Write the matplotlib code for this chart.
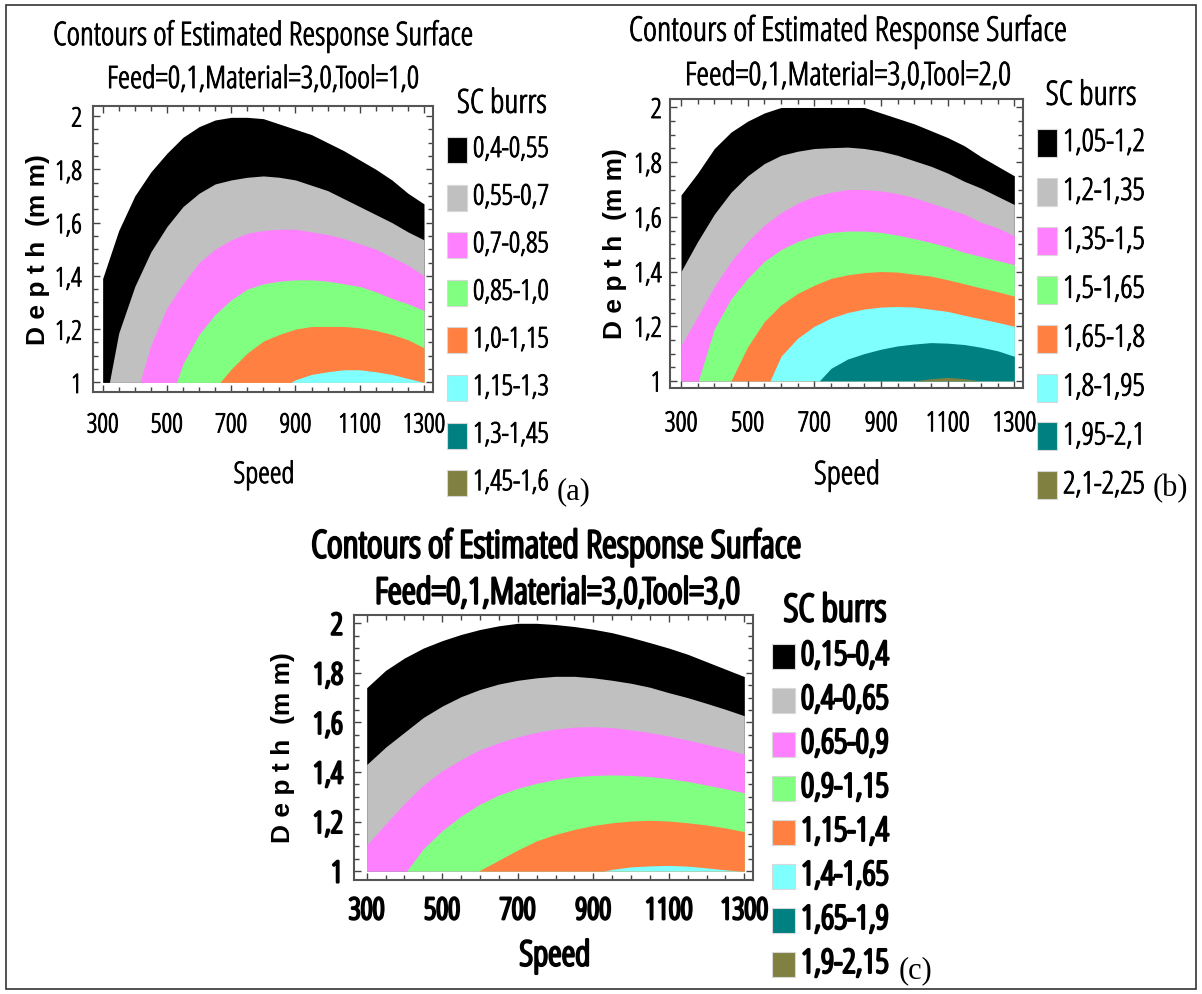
import numpy as np
import matplotlib.pyplot as plt
import matplotlib.patheffects as pe
from matplotlib.font_manager import FontProperties, findfont
from matplotlib.patches import Rectangle
from matplotlib.ticker import MultipleLocator

# the reference uses a narrow face; take a condensed one if installed
NARROW, STRETCH = 'Liberation Sans', 'normal'
for fam in ['Noto Sans', 'Open Sans', 'DejaVu Sans', 'Roboto']:
    try:
        path = findfont(FontProperties(family=fam, stretch='condensed'),
                        fallback_to_default=False)
    except ValueError:
        continue
    if 'Cond' in path.split('/')[-1]:
        NARROW, STRETCH = fam, 'condensed'
        break

W, H = 1202, 994

# band colours, lowest SC burrs level first
band_colors = ['#000000', '#c0c0c0', '#ff80ff', '#80ff80',
               '#ff8040', '#80ffff', '#008080', '#808040']

speed = [300, 350, 400, 450, 500, 550, 600, 650, 700, 750, 800,
         850, 900, 950, 1000, 1050, 1100, 1150, 1200, 1250, 1300]

# ---- panel (a): Tool=1,0 ; band boundaries (depth)
a_levels = ['0,4-0,55', '0,55-0,7', '0,7-0,85', '0,85-1,0',
            '1,0-1,15', '1,15-1,3', '1,3-1,45', '1,45-1,6']
a_b0_s = speed
a_b0_d = [1.39, 1.57, 1.70, 1.79, 1.86, 1.92, 1.96, 1.985, 1.995, 1.995, 1.99,
          1.97, 1.95, 1.93, 1.90, 1.87, 1.835, 1.80, 1.76, 1.71, 1.67]
a_b1_s = [321] + speed[1:]
a_b1_d = [1.0, 1.185, 1.36, 1.49, 1.585, 1.66, 1.71, 1.745, 1.76, 1.77, 1.775,
          1.77, 1.76, 1.74, 1.72, 1.69, 1.66, 1.63, 1.60, 1.565, 1.535]
a_b2_s = [416] + speed[3:]
a_b2_d = [1.0, 1.14, 1.28, 1.37, 1.45, 1.50, 1.535, 1.56, 1.57, 1.575,
          1.575, 1.565, 1.555, 1.54, 1.52, 1.50, 1.47, 1.44, 1.40]
a_b3_s = [530] + speed[5:]
a_b3_d = [1.0, 1.07, 1.18, 1.255, 1.31, 1.35, 1.37, 1.38, 1.385,
          1.385, 1.38, 1.37, 1.36, 1.34, 1.315, 1.295, 1.27]
a_b4_s = [665] + speed[8:]
a_b4_d = [1.0, 1.05, 1.11, 1.155, 1.18, 1.20, 1.21, 1.21, 1.21,
          1.205, 1.195, 1.18, 1.16, 1.13]
a_b5_s = [885] + speed[12:]
a_b5_d = [1.0, 1.01, 1.03, 1.04, 1.0475, 1.0475, 1.04, 1.03, 1.015, 1.0]

# ---- panel (b): Tool=2,0
b_levels = ['1,05-1,2', '1,2-1,35', '1,35-1,5', '1,5-1,65',
            '1,65-1,8', '1,8-1,95', '1,95-2,1', '2,1-2,25']
b_b0_s = speed
b_b0_d = [1.68, 1.76, 1.85, 1.91, 1.95, 1.98, 2.0, 2.0, 2.0, 2.0, 2.0,
          2.0, 1.98, 1.96, 1.94, 1.915, 1.89, 1.86, 1.82, 1.785, 1.75]
b_b1_s = speed
b_b1_d = [1.40, 1.51, 1.61, 1.69, 1.75, 1.795, 1.825, 1.84, 1.85, 1.853, 1.855,
          1.85, 1.84, 1.825, 1.805, 1.785, 1.76, 1.73, 1.705, 1.675, 1.645]
b_b2_s = speed
b_b2_d = [1.13, 1.235, 1.345, 1.437, 1.51, 1.57, 1.615, 1.65, 1.675, 1.69, 1.70,
          1.70, 1.695, 1.685, 1.67, 1.65, 1.63, 1.61, 1.58, 1.56, 1.53]
b_b3_s = [352] + speed[2:]
b_b3_d = [1.0, 1.19, 1.30, 1.375, 1.437, 1.48, 1.51, 1.53, 1.543, 1.548,
          1.548, 1.543, 1.533, 1.52, 1.506, 1.49, 1.47, 1.455, 1.44, 1.425]
b_b4_s = speed[3:]
b_b4_d = [1.0, 1.125, 1.217, 1.278, 1.32, 1.35, 1.375, 1.388, 1.396,
          1.40, 1.398, 1.39, 1.383, 1.37, 1.355, 1.34, 1.326, 1.31]
b_b5_s = [567] + speed[6:]
b_b5_d = [1.0, 1.09, 1.156, 1.20, 1.23, 1.25, 1.263, 1.27, 1.272,
          1.27, 1.262, 1.254, 1.24, 1.227, 1.214, 1.20]
b_b6_s = [715] + speed[9:]
b_b6_d = [1.0, 1.046, 1.08, 1.10, 1.116, 1.128, 1.135, 1.14, 1.138,
          1.133, 1.123, 1.11, 1.09]
b_b7_s = [1000, 1050, 1100, 1150, 1197]
b_b7_d = [1.0, 1.008, 1.013, 1.008, 1.0]

# ---- panel (c): Tool=3,0
c_levels = ['0,15-0,4', '0,4-0,65', '0,65-0,9', '0,9-1,15',
            '1,15-1,4', '1,4-1,65', '1,65-1,9', '1,9-2,15']
c_b0_s = speed
c_b0_d = [1.74, 1.81, 1.86, 1.90, 1.93, 1.955, 1.975, 1.99, 2.0, 2.0, 1.995,
          1.987, 1.976, 1.962, 1.943, 1.922, 1.90, 1.875, 1.845, 1.815, 1.785]
c_b1_s = speed
c_b1_d = [1.43, 1.50, 1.56, 1.62, 1.666, 1.704, 1.733, 1.755, 1.77, 1.78, 1.786,
          1.786, 1.78, 1.77, 1.758, 1.742, 1.72, 1.70, 1.677, 1.653, 1.627]
c_b2_s = speed
c_b2_d = [1.105, 1.19, 1.273, 1.347, 1.405, 1.45, 1.49, 1.518, 1.542, 1.56, 1.573,
          1.581, 1.583, 1.579, 1.57, 1.559, 1.545, 1.529, 1.511, 1.493, 1.472]
c_b3_s = [406] + speed[3:]
c_b3_d = [1.0, 1.09, 1.163, 1.222, 1.27, 1.307, 1.334, 1.354, 1.37, 1.381,
          1.386, 1.388, 1.386, 1.381, 1.373, 1.362, 1.347, 1.332, 1.316]
c_b4_s = [596] + speed[7:]
c_b4_d = [1.0, 1.044, 1.085, 1.122, 1.148, 1.168, 1.184, 1.195, 1.202,
          1.205, 1.202, 1.195, 1.186, 1.174, 1.159]
c_b5_s = [927, 950, 1000, 1050, 1100, 1150, 1200, 1250, 1290]
c_b5_d = [1.0, 1.007, 1.017, 1.021, 1.023, 1.02, 1.013, 1.005, 1.0]

x_major = [300, 500, 700, 900, 1100, 1300]
y_major = [1.0, 1.2, 1.4, 1.6, 1.8, 2.0]
y_labels = ['1', '1,2', '1,4', '1,6', '1,8', '2']

TITLE = 'Contours of Estimated Response Surface'


def px(x, y):
    return x / W, 1 - y / H


fig = plt.figure(figsize=(W / 100, H / 100), dpi=100)
fig.add_artist(Rectangle(px(6, 989), 1190 / W, 984 / H, transform=fig.transFigure,
                         fill=False, lw=1.2, ec='#333333'))
renderer = fig.canvas.get_renderer()


def narrow(s, width, stroke):
    # condensed face sized so that s is about `width` px wide; a stroke of
    # the text colour gives the heavier look of the original lettering
    props = dict(family=NARROW, fontstretch=STRETCH)
    t = fig.text(0, 0, s, fontsize=20, **props)
    w = t.get_window_extent(renderer=renderer).width
    t.remove()
    props['fontsize'] = 20 * width / w
    props['path_effects'] = [pe.withStroke(linewidth=stroke, foreground='black')]
    return props


def panel(box, xlim, ylim, bounds, stroke, tick_w, xpad, ypad):
    l, t, r, b = box
    ax = fig.add_axes([l / W, 1 - b / H, (r - l) / W, (b - t) / H])
    # painter's order: each boundary fills down to depth 1 over the previous band
    for (s, d), col in zip(bounds, band_colors):
        ax.fill_between(s, 1, np.clip(d, 1, 2), color=col, lw=0)
    ax.set_xlim(*xlim)
    ax.set_ylim(*ylim)
    tp = narrow('300', tick_w, stroke)
    ax.set_xticks(x_major, labels=[str(v) for v in x_major], **tp)
    ax.set_yticks(y_major, labels=y_labels, **tp)
    ax.xaxis.set_minor_locator(MultipleLocator(50))
    ax.yaxis.set_minor_locator(MultipleLocator(0.05))
    ax.tick_params(which='both', direction='in', top=True, right=True,
                   color='#444444', width=1.0)
    ax.tick_params(which='major', length=5)
    ax.tick_params(which='minor', length=3.5)
    ax.tick_params(axis='x', pad=xpad)
    ax.tick_params(axis='y', pad=ypad)
    for sp in ax.spines.values():
        sp.set_color('#555555')
        sp.set_linewidth(1.5)
    return ax


def legend(labels, x0, y0, dy, pw, ph, label_w, stroke):
    lp = narrow(labels[0], label_w, stroke)
    for i, (lab, col) in enumerate(zip(labels, band_colors)):
        yc = y0 + i * dy
        fig.add_artist(Rectangle(px(x0, yc + ph / 2), pw / W, ph / H,
                                 transform=fig.transFigure, fc=col,
                                 ec='#d8d8d8', lw=0.8))
        fig.text(*px(x0 + pw + 6, yc), lab, ha='left', va='center', **lp)


def texts(items, stroke, yl_xy, tag, tag_xy):
    # items: (string, centre x, centre y, target width)
    for s, x, y, w in items:
        fig.text(*px(x, y), s, ha='center', va='center', **narrow(s, w, stroke))
    fig.text(*px(*yl_xy), 'D e p t h  (m m)', rotation=90, ha='center', va='center',
             family='Liberation Sans', fontsize=19, fontweight='bold')
    fig.text(*px(*tag_xy), tag, ha='center', va='center',
             family='Liberation Serif', fontsize=22)


# (a)
panel((93, 106, 433, 392), (270, 1328), (0.964, 2.0375),
      [(a_b0_s, a_b0_d), (a_b1_s, a_b1_d), (a_b2_s, a_b2_d),
       (a_b3_s, a_b3_d), (a_b4_s, a_b4_d), (a_b5_s, a_b5_d)],
      0.7, 32, 14, 8)
legend(a_levels, 447, 150, 47.6, 20, 26, 76, 0.7)
texts([(TITLE, 263, 37, 420),
       ('Feed=0,1,Material=3,0,Tool=1,0', 263, 80, 312),
       ('SC burrs', 502, 104, 90),
       ('Speed', 264, 475, 61)],
      0.7, (38, 250), '(a)', (574, 492))

# (b)
panel((670, 99, 1023, 388), (267, 1326), (0.974, 2.031),
      [(b_b0_s, b_b0_d), (b_b1_s, b_b1_d), (b_b2_s, b_b2_d), (b_b3_s, b_b3_d),
       (b_b4_s, b_b4_d), (b_b5_s, b_b5_d), (b_b6_s, b_b6_d), (b_b7_s, b_b7_d)],
      0.7, 33, 16, 6)
legend(b_levels, 1037, 143, 48.9, 20, 28, 82, 0.7)
texts([(TITLE, 848, 32, 438),
       ('Feed=0,1,Material=3,0,Tool=2,0', 848, 77, 326),
       ('SC burrs', 1091, 96, 91),
       ('Speed', 847, 476, 66)],
      0.7, (615, 244), '(b)', (1170, 489))

# (c) is set in bold in the original
panel((354, 615, 753, 880), (266.4, 1323), (0.964, 2.0335),
      [(c_b0_s, c_b0_d), (c_b1_s, c_b1_d), (c_b2_s, c_b2_d),
       (c_b3_s, c_b3_d), (c_b4_s, c_b4_d), (c_b5_s, c_b5_d)],
      1.8, 36, 12, 8)
legend(c_levels, 772, 656, 44, 23, 25, 88, 1.8)
texts([(TITLE, 556, 547, 490),
       ('Feed=0,1,Material=3,0,Tool=3,0', 557, 594, 365),
       ('SC burrs', 835, 611, 103),
       ('Speed', 555, 956, 71)],
      1.8, (283, 748), '(c)', (915, 971))

fig.savefig('out.png', dpi=100)
